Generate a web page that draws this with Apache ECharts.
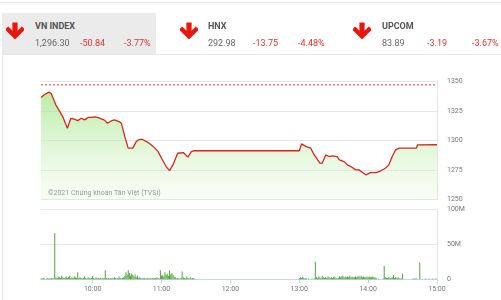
<!DOCTYPE html>
<html>
<head>
<meta charset="utf-8">
<script src="https://cdn.jsdelivr.net/npm/echarts@6/dist/echarts.min.js"></script>
<style>
  html, body { margin:0; padding:0; background:#fff; }
  body { width:501px; height:300px; position:relative; overflow:hidden; font-family: Roboto, "Noto Sans", sans-serif; }
  #chart { position:absolute; left:0; top:0; width:501px; height:300px; }
  .topline { position:absolute; left:0; top:2px; width:501px; height:1px; background:#ececec; }
  .hdrline { position:absolute; left:2px; top:54px; width:499px; height:1px; background:#e8e8e8; }
  .leftline { position:absolute; left:2px; top:54px; width:1px; height:246px; background:#e8e8e8; }
  .activebox { position:absolute; left:2px; top:13px; width:154px; height:41px; background:#ebebeb; }
  .t { position:absolute; font-size:9px; line-height:10px; white-space:nowrap; }
  .name { font-weight:bold; color:#555; }
  .val { color:#666; }
  .red { color:#e0312e; }
  svg.arrow { position:absolute; }
</style>
</head>
<body>
<div id="chart"></div>
<div class="topline"></div>
<div class="activebox"></div>
<div class="hdrline"></div>
<div class="leftline"></div>
<div id="hdr"></div>
<script>
// ---- header data ----
const indexNames   = ["VN INDEX", "HNX", "UPCOM"];
const indexValues  = ["1,296.30", "292.98", "83.89"];
const indexChanges = ["-50.84", "-13.75", "-3.19"];
const indexPercent = ["-3.77%", "-4.48%", "-3.67%"];

// ---- price line (VN-Index intraday) ----
const priceTimes = ["09:15","09:18","09:22","09:24","09:28","09:31","09:34","09:38","09:41","09:44","09:47","09:50","09:53","09:56","09:59","10:02","10:05","10:08","10:10","10:13","10:16","10:19","10:23","10:25","10:28","10:31","10:32","10:35","10:38","10:40","10:43","10:47","10:50","10:53","10:57","11:00","11:04","11:07","11:10","11:14","11:19","11:23","11:26","11:28","11:30","13:00","13:02","13:03","13:06","13:10","13:13","13:18","13:20","13:23","13:26","13:29","13:33","13:35","13:39","13:42","13:45","13:49","13:52","13:58","14:02","14:07","14:11","14:15","14:18","14:21","14:24","14:27","14:42","14:43","15:00"];
const priceValues = [1336.5,1339,1341,1339.5,1330,1325,1320,1310.3,1318.8,1318,1316.8,1318.8,1317.4,1319.5,1319.6,1320,1319.3,1318,1317.4,1314.6,1316.5,1317.4,1316,1314.6,1303.2,1293.4,1292,1293.4,1299,1300.5,1301,1299,1297,1294.7,1290.5,1284.9,1277.8,1274.4,1279.2,1289.1,1289.7,1285.8,1290.5,1291.2,1291.2,1291.2,1297,1297.6,1294.7,1293.4,1287.7,1280.7,1280.7,1287.7,1286.3,1286.9,1286.3,1283.5,1282,1279.2,1277.8,1275,1275,1270.8,1272.7,1272.7,1274.2,1276.4,1279.2,1286.3,1292,1293.4,1293.4,1296.2,1296.3];
const refPrice = 1347.14;

// ---- volume (millions), one value per minute ----
const morningStart = "09:15";
const morningVol = [1,1,2,1,0,1,2,1,1,2,1,1,
  66,
  3,2,4,3,2,5,3,2,3,4,2,3,5,2,3,2,4,3,2,
  10,
  2,3,2,1,2,4,2,1,3,2,1,2,5,2,1,3,1,2,1,2,1,2,2,
  13,
  2,1,2,1,2,2,1,3,2,1,2,4,2,1,2,3,5,
  10,7,13,9,
  5,8,6,4,7,3,5,2,3,
  2,1,2,2,1,1,2,1,2,1,2,1,2,
  2,3,2,1,
  13,
  5,6,4,
  10,
  6,8,5,
  13,
  7,9,6,4,3,
  1,2,1,1,2,
  11,
  3,2,1,4,2,1,3,1,2,1,1];
const afternoonStart = "13:00";
const afternoonVol = [2,3,2,4,2,1,2,
  0,1,0,0,1,0,1,
  25,
  3,2,4,3,2,5,3,2,3,2,4,3,2,3,2,4,3,2,
  1,2,
  4,3,4,5,3,4,
  3,4,3,5,3,4,3,3,4,3,4,5,3,
  5,
  3,4,3,3,4,3,4,3,3,4,3,3,2,
  0,1,0,0,0,1,
  19,
  3,2,2,3,2,2,3,6,2,3,2,3,2,1,1,
  8,
  0,0,0,0,0,0,0,0,1,
  1,1,1,0,0,
  24,
  0,0,0,0,1,0,0,1,0,0,1,0,0,1,0];

// ---- axis ticks ----
const timeTicks = ["10:00","11:00","12:00","13:00","14:00","15:00"];
const priceTicks = [1250, 1275, 1300, 1325, 1350];
const volumeTicks = ["0", "50M", "100M"];

// ---------------------------------------------------------------
function toMin(s){ const p = s.split(":"); return (+p[0])*60 + (+p[1]); }
function fmt(m){ const h = Math.floor(m/60), mm = m%60; return (h<10?"0":"")+h+":"+(mm<10?"0":"")+mm; }

// header
const hdr = document.getElementById('hdr');
const blockX = [6, 180, 353];
const textX = [35, 208, 382];
const chgX = [80, 253, 427];
const pctX = [124, 298, 472];
for (let i=0;i<3;i++){
  hdr.insertAdjacentHTML('beforeend',
    `<svg class="arrow" style="left:${blockX[i]}px;top:22px" width="18" height="17" viewBox="0 0 18 17">
      <rect x="6.4" y="0.5" width="5.2" height="11" fill="#e8160c"/>
      <polyline points="2.2,7.5 9,14.3 15.8,7.5" fill="none" stroke="#e8160c" stroke-width="4.4" stroke-linecap="square"/>
    </svg>
    <div class="t name" style="left:${textX[i]}px;top:21px">${indexNames[i]}</div>
    <div class="t val" style="left:${textX[i]}px;top:38px">${indexValues[i]}</div>
    <div class="t red" style="left:${chgX[i]}px;top:38px">${indexChanges[i]}</div>
    <div class="t red" style="left:${pctX[i]}px;top:38px">${indexPercent[i]}</div>`);
}

const xMin = toMin("09:15"), xMax = toMin("15:00");
const priceData = priceTimes.map((t,i)=>[toMin(t), priceValues[i]]);
const volData = [];
morningVol.forEach((v,i)=>volData.push([toMin(morningStart)+i, v]));
afternoonVol.forEach((v,i)=>volData.push([toMin(afternoonStart)+i, v]));
const tickMins = timeTicks.map(toMin);

const chart = echarts.init(document.getElementById('chart'), null, {renderer:'canvas'});
const axisGray = '#ccd6eb';
const gridGray = '#e6e6e6';
chart.setOption({
  animation:false,
  grid:[
    {left:41, right:64, top:81.5, height:117.8},
    {left:41, right:64, top:209.5, height:69.8}
  ],
  xAxis:[
    {type:'value', gridIndex:0, min:xMin, max:xMax, show:false},
    {type:'value', gridIndex:1, min:xMin, max:xMax,
     axisLine:{show:true, lineStyle:{color:axisGray}},
     axisTick:{show:true, customValues:tickMins, length:4, lineStyle:{color:axisGray}},
     axisLabel:{customValues:tickMins, formatter:(v)=>fmt(v), color:'#777', fontSize:7, margin:6, fontFamily:'Roboto'},
     splitLine:{show:false}}
  ],
  yAxis:[
    {type:'value', gridIndex:0, position:'right', min:priceTicks[0], max:priceTicks[priceTicks.length-1], interval:25,
     axisLine:{show:true, lineStyle:{color:gridGray}}, axisTick:{show:false},
     axisLabel:{color:'#777', fontSize:7, margin:10, fontFamily:'Roboto', formatter:(v)=>String(v)},
     splitLine:{show:true, lineStyle:{color:gridGray}}},
    {type:'value', gridIndex:1, position:'right', min:0, max:100, interval:50,
     axisLine:{show:true, lineStyle:{color:gridGray}}, axisTick:{show:false},
     axisLabel:{color:'#777', fontSize:7, margin:10, fontFamily:'Roboto',
       formatter:(v)=>volumeTicks[Math.round(v/50)]},
     splitLine:{show:true, lineStyle:{color:gridGray}}}
  ],
  graphic:[{type:'text', left:48, top:190, style:{text:'©2021 Chứng khoán Tân Việt (TVSI)', fill:'#777', font:'7px Roboto'}}],
  series:[
    {type:'line', xAxisIndex:0, yAxisIndex:0, data:[[xMin, refPrice],[xMax, refPrice]], symbol:'none',
     lineStyle:{color:'#e8342a', type:[2,2], width:1}, z:1},
    {type:'line', xAxisIndex:0, yAxisIndex:0, data:priceData, symbol:'none',
     lineStyle:{color:'#d8261c', width:1.3}, z:2,
     areaStyle:{origin:'start', color:new echarts.graphic.LinearGradient(0,0,0,1,[
        {offset:0, color:'#9ee47f'}, {offset:1, color:'rgba(225,247,215,0.35)'}])}},
    {type:'bar', xAxisIndex:1, yAxisIndex:1, data:volData, barWidth:1, itemStyle:{color:'#4ea63a'}}
  ]
});
</script>
</body>
</html>
